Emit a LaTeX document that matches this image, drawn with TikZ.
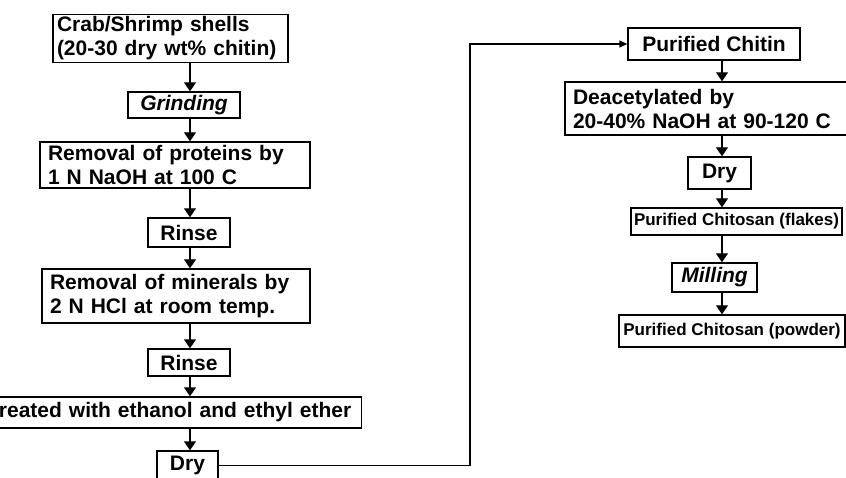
\documentclass[tikz,border=0pt]{standalone}
\usepackage{fontspec}
\setmainfont{Liberation Sans}
\usetikzlibrary{arrows.meta}

\begin{document}
\begin{tikzpicture}[x=1pt, y=-1pt,
    stepbox/.style={draw, line width=1.4pt, font=\bfseries\fontsize{21}{24}\selectfont, inner xsep=8pt, inner ysep=2pt},
    notebox/.style={stepbox, align=left},
    actbox/.style={stepbox, font=\bfseries\itshape\fontsize{21}{24}\selectfont},
    smallbox/.style={stepbox, font=\bfseries\fontsize{17}{20}\selectfont, inner xsep=3pt},
    flow/.style={-{Triangle[length=9pt,width=12pt]}, line width=1.4pt},
    feed/.style={-{Triangle[length=8pt,width=7pt]}, line width=1.4pt}
]
\useasboundingbox (0,0) rectangle (846,478);
\fill[white] (0,0) rectangle (846,478);
\clip (0,0) rectangle (846,478);
\coordinate (colL) at (190,0);
\coordinate (colR) at (722,0);
\coordinate (bend) at (470,0);
% left column: shells to chitin
\node[notebox, text width=227pt, inner xsep=4pt, minimum height=47pt](shells) at (170.5,38.5) {Crab/Shrimp shells\\(20-30 dry wt\% chitin)};
\node[actbox, minimum width=112pt, minimum height=26pt](grind) at (184,105) {Grinding};
\node[notebox, text width=254pt, minimum height=46pt](proteins) at (175,165) {Removal of proteins by\\1 N NaOH at 100 C};
\node[stepbox, minimum width=82pt, minimum height=29pt](rinse1) at (189,232.5) {Rinse};
\node[notebox, text width=252pt, minimum height=54pt](minerals) at (176,296) {Removal of minerals by\\2 N HCl at room temp.};
\node[stepbox, minimum width=82pt, minimum height=27pt](rinse2) at (189,362.5) {Rinse};
\node[stepbox, anchor=east, text width=400pt, align=right, inner xsep=10pt, minimum height=31pt](treated) at (362,412.5) {Treated with ethanol and ethyl ether};
\node[stepbox, minimum width=61pt, minimum height=29pt](dry1) at (187.5,465.5) {Dry};
% right column: chitin to chitosan
\node[stepbox, minimum width=172pt, minimum height=32pt](chitin) at (714,44) {Purified Chitin};
\node[notebox, text width=270pt, minimum height=53pt](deacet) at (708,108.5) {Deacetylated by\\20-40\% NaOH at 90-120 C};
\node[stepbox, minimum width=63pt, minimum height=32pt](dry2) at (719.5,173) {Dry};
\node[smallbox, minimum width=211pt, minimum height=27pt](flakes) at (736.5,221.5) {Purified Chitosan (flakes)};
\node[actbox, minimum width=85pt, minimum height=29pt](mill) at (714.5,277.5) {Milling};
\node[smallbox, minimum width=226pt, minimum height=32pt](powder) at (732,331) {Purified Chitosan (powder)};
\draw[flow] (shells.south -| colL) -- (grind.north -| colL);
\draw[flow] (grind.south -| colL) -- (proteins.north -| colL);
\draw[flow] (proteins.south -| colL) -- (rinse1.north -| colL);
\draw[flow] (rinse1.south -| colL) -- (minerals.north -| colL);
\draw[flow] (minerals.south -| colL) -- (rinse2.north -| colL);
\draw[flow] (rinse2.south -| colL) -- (treated.north -| colL);
\draw[flow] (treated.south -| colL) -- (dry1.north -| colL);
\draw[feed] (dry1.east) -- (dry1.east -| bend) -- (chitin.west -| bend) -- (chitin.west);
\draw[flow] (chitin.south -| colR) -- (deacet.north -| colR);
\draw[flow] (deacet.south -| colR) -- (dry2.north -| colR);
\draw[flow] (dry2.south -| colR) -- (flakes.north -| colR);
\draw[flow] (flakes.south -| colR) -- (mill.north -| colR);
\draw[flow] (mill.south -| colR) -- (powder.north -| colR);
\end{tikzpicture}
\end{document}
